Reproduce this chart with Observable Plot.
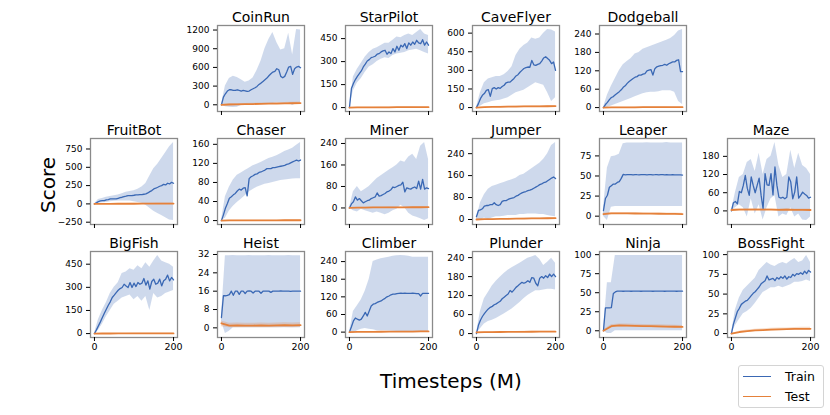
<!DOCTYPE html>
<html><head><meta charset="utf-8">
<script src="https://cdn.jsdelivr.net/npm/d3@7"></script>
<script src="https://cdn.jsdelivr.net/npm/@observablehq/plot@0.6"></script>
<style>
body{margin:0;background:#fff;font-family:"DejaVu Sans",sans-serif;}
#fig{position:relative;width:830px;height:415px;overflow:hidden;background:#fff;}
#fig svg{position:absolute;}
.lbl{position:absolute;font-size:20px;line-height:20px;white-space:nowrap;color:#000;}
#legend{position:absolute;left:738px;top:365px;width:86px;height:43px;box-sizing:border-box;border:1px solid #d4d4d4;border-radius:3px;background:#fff;padding-top:1px;}
.li{display:flex;align-items:center;height:19.5px;font-size:12.5px;}
.li span.sw{display:inline-block;width:28px;height:0;border-top:1.5px solid;margin-left:4px;margin-right:14px;}
</style></head><body><div id="fig"></div>
<script>
// ---------------- data ----------------
const games = ["CoinRun","StarPilot","CaveFlyer","Dodgeball","FruitBot","Chaser","Miner","Jumper","Leaper","Maze","BigFish","Heist","Climber","Plunder","Ninja","BossFight"];
const seriesNames = ["Train","Test"];
const steps5 = [0,5,10,15,20,25,30,35,40,45,50,55,60,65,70,75,80,85,90,95,100,105,110,115,120,125,130,135,140,145,150,155,160,165,170,175,180,185,190,195,200];
const steps10 = [0,10,20,30,40,50,60,70,80,90,100,110,120,130,140,150,160,170,180,190,200];
const steps20 = [0,20,40,60,80,100,120,140,160,180,200];
const xTicks = [0,200];
const yTicks = [[0,300,600,900,1200],[0,150,300,450],[0,150,300,450,600],[0,60,120,180,240],[-250,0,250,500,750],[0,40,80,120,160],[0,80,160,240],[0,80,160,240],[0,25,50,75],[0,60,120,180],[0,150,300,450],[0,8,16,24,32],[0,60,120,180,240],[0,60,120,180,240],[0,25,50,75,100],[0,25,50,75,100]];

// train mean (x = steps5)
const trainMean = [
[0,123,177,220,241,241,230,230,241,230,220,230,225,214,220,241,257,273,295,327,348,375,402,429,466,498,525,536,579,563,456,434,456,525,606,616,488,579,606,616,595],
[0,124,157,183,204,222,239,265,283,304,313,326,330,335,348,352,363,370,374,348,363,352,385,363,400,374,407,396,417,385,422,407,428,413,439,422,417,443,407,428,407],
[0,32,72,99,113,139,145,90,153,161,150,161,155,170,180,200,206,205,220,235,255,265,285,300,315,322,327,325,380,345,340,348,354,375,400,410,395,381,354,367,300],
[0,10,17,26,33,36,42,47,52,58,66,71,79,85,90,95,99,101,106,106,109,111,120,122,124,106,127,133,135,137,138,141,138,143,146,149,149,154,156,117,117],
[0,14,32,41,45,45,55,59,68,68,68,68,77,86,91,100,105,114,114,114,118,123,123,127,127,132,136,150,168,182,205,214,227,241,250,268,259,282,273,295,282],
[0,12,26,36,47,50,54,57,62,66,64,68,69,52,88,92,94,97,98,101,102,104,106,109,109,109,111,111,112,113,114,115,116,118,119,121,123,125,127,125,127],
[0,15,23,41,29,35,27,19,23,27,29,35,38,41,56,44,46,50,54,60,63,68,78,76,80,84,86,96,60,75,72,70,75,78,72,100,70,106,70,75,72],
[10,33,35,39,49,51,51,54,54,61,54,51,54,66,69,69,73,76,78,80,85,88,93,97,100,102,105,107,110,114,118,122,127,130,134,136,141,146,151,155,149],
[7,22,26,36,38,40,40,42,43,47,52,51.5,51.8,51.6,51.7,51.5,51.8,51.6,51.5,51.7,51.6,51.8,51.5,51.6,51.7,51.5,51.6,51.8,51.5,51.6,51.7,51.5,51.6,51.4,51.5,51.6,51.4,51.5,51.3,51.4,51.2],
[0,27,31,23,64,60,84,117,75,51,112,84,60,84,108,51,7,123,86,84,123,53,145,84,45,42,45,40,45,112,95,40,62,112,42,51,62,56,51,42,45],
[0,24,50,76,104,132,158,184,206,234,249,266,281,292,299,320,309,299,331,299,327,305,331,320,327,357,314,342,288,338,353,320,327,353,309,342,353,379,342,364,348],
[4.5,14,14,14.2,14.5,16,14.2,16,16,14.6,16,16,15,16,16.1,16,15.2,16,16,16,15.1,16,16,16,16,15.5,16,16,16,16,16.1,16,16,16,16,15.9,16,16,16,16,16],
[0,18,38,48,44,41,44,55,67,55,72,89,95,97,101,104,106,111,115,120,123,127,129,129,131,132,133,132,133,132,132,132,133,132,131,131,123,132,132,132,132],
[0,26,42,54,63,71,78,83,86,91,94,98,102,110,115,120,125,136,131,138,146,151,157,162,159,162,167,162,177,175,159,151,175,180,175,183,177,188,180,188,180],
[0,30,30,30,30.5,49,51,52,52,52.1,51.9,52,52.1,52,51.9,52,52,52.1,52,51.9,52,52,52.1,52,52,51.9,52,52,52.1,52,52,51.9,52,52,52,52.1,52,51.9,52,52,52],
[0,12,20,28,32,37,39,41,42,45,48,51,53,56,59,63,65,67,73,68,69,70,67,71,69,72,70,73,69,72,71,75,73,76,75,77,75,79,76,80,78]
];
// train band (x = steps10)
const trainHi = [
[0,300,420,460,440,400,360,380,430,550,700,900,1050,1160,1000,880,900,1150,800,1210,1200],
[0,200,250,290,330,360,380,390,405,420,420,440,460,455,470,480,470,490,510,480,470],
[0,120,200,230,240,250,250,265,290,330,420,470,500,520,560,550,560,600,630,625,610],
[0,40,70,95,120,140,150,160,175,180,190,195,200,205,210,215,220,225,235,250,255],
[0,60,75,90,100,110,120,140,160,170,180,200,230,280,380,480,540,620,700,780,840],
[0,50,70,85,95,100,105,110,115,118,122,126,130,133,136,140,145,148,152,158,164],
[0,60,80,60,70,80,95,110,120,130,140,150,160,175,170,190,200,180,230,244,180],
[0,60,90,110,120,125,130,135,140,145,150,160,165,175,185,195,205,220,240,270,281],
[10,60,74,75,77,90,91,91,91,91,91,91.5,91,91,91,91,91.8,91,91,91,91],
[0,60,110,120,160,170,130,190,120,170,180,226,150,110,120,200,140,190,150,140,120],
[0,90,150,200,260,300,330,390,400,420,410,440,420,460,430,470,507,470,460,450,430],
[5,31.5,31.5,31.6,31.5,31.5,31.5,31.6,31.5,31.5,31.5,31.5,31.6,31.5,31.5,31.5,31.5,31.6,31.5,31.5,31.5],
[0,70,90,110,140,180,240,245,250,252,255,258,260,261,260,258,255,255,255,255,255],
[0,70,110,130,150,165,178,190,200,208,215,222,230,238,242,247,235,215,225,238,222],
[0,63,63,99,99,99,99,99,99,99,99,99,99,99,99,99,99,99,99,99,99],
[0,30,45,55,60,65,70,80,85,90,87,85,88,90,88,92,95,90,92,99,90]
];
const trainLo = [
[0,-30,-40,-45,-40,-10,0,10,5,10,15,20,10,20,30,25,20,30,-10,20,30],
[0,110,160,190,230,265,280,300,315,325,320,340,350,355,360,370,375,380,370,360,350],
[0,10,30,40,50,55,60,70,80,100,120,130,140,160,180,200,190,180,120,50,80],
[0,0,5,10,15,20,25,30,35,40,45,48,50,50,52,55,55,55,50,20,10],
[0,10,15,20,30,35,40,40,40,40,30,20,10,-20,-60,-100,-130,-160,-190,-220,-228],
[0,5,20,30,38,45,52,60,65,70,73,76,78,80,82,84,85,86,87,88,88],
[0,-10,-15,-5,-10,-15,-20,-15,-20,-25,-20,-10,-5,10,0,-20,-30,-35,-40,-47,-40],
[0,-4,5,0,5,10,10,12,15,15,15,18,18,20,20,20,18,18,15,12,10],
[0,-5.5,11,12,12,12,12,12,12,12,12,12,12,12,12,12,12,12,12,12,12],
[0,10,20,10,-20,40,-10,20,-30,10,40,50,-20,-10,-15,10,-20,-10,-30,-32,-20],
[0,20,60,110,150,190,210,230,240,250,220,240,210,240,150,260,230,240,260,270,280],
[3,-2.5,-1.5,0,0,0,0,0,0,0,0,0,0,0,0,0,0,0,0,0,0],
[0,-5,5,10,12,10,8,5,5,5,4,3,2,1,1,1,1,0,0,0,0],
[0,15,30,38,42,48,55,62,70,78,88,98,110,120,128,135,135,138,140,140,138],
[0,-3.7,-3.5,0,0,0,0,0,0,0,0,0,0,0,0,0,0,0,0,0,0],
[0,10,18,25,28,32,38,45,52,55,58,58,60,58,60,62,65,65,66,68,66]
];
// test (x = steps20)
const testMean = [
[0,5,8,10,12,15,18,20,22,25,28],
[0,1,1.5,2,2,2,2.5,2.5,2.5,3,3],
[0,3,5,6,7,8,9,10,10,11,12],
[0,0.5,0.8,1,1,1.2,1.2,1.3,1.3,1.4,1.4],
[0,1,1,2,2,2,3,3,3,4,4],
[0,0.3,0.4,0.5,0.5,0.6,0.6,0.6,0.7,0.7,0.7],
[0,1,1.5,2,2,2.2,2.4,2.5,2.6,2.7,2.8],
[0,1,1.5,2,2.5,3,3.5,4,4.2,4.5,5],
[2.5,3.5,3.6,3.5,3.3,3.2,3.1,3,2.9,2.8,2.6],
[3,4,4,4.5,4,4,3.5,4,3.5,3.5,3],
[0,0.5,0.7,0.8,0.9,1,1,1.1,1.1,1.2,1.2],
[2,1,1.1,1,1,1.1,1,1.1,1.2,1.1,1.2],
[0,0.5,0.8,1,1.2,1.4,1.6,1.8,2,2.2,2.5],
[4,4.5,4.8,5,5.2,5.4,5.6,5.8,6,6,6],
[0,6,7,6.8,6.5,6.2,6,5.8,5.5,5.3,5],
[0,2,3,4,4.5,5,5.3,5.6,6,6,6]
];
const testLo = [
[0,-5,-5,-3,0,2,5,5,8,10,12],
[0,0,0.5,1,1,1,1,1,1,1.5,1.5],
[0,1,2,3,4,4,5,5,6,6,7],
[0,0,0.3,0.5,0.5,0.6,0.6,0.7,0.7,0.8,0.8],
[0,-2,-3,-3,-3,-4,-4,-4,-5,-5,-5],
[0,0,0.1,0.2,0.2,0.3,0.3,0.3,0.4,0.4,0.4],
[0,0,0.5,1,1,1,1.2,1.3,1.4,1.5,1.5],
[0,0,0.5,1,1.5,2,2,2.5,2.8,3,3.2],
[1.5,2.5,2.6,2.5,2.3,2.2,2.1,2,1.9,1.8,1.7],
[0,1,1,1.5,1,1,0.5,1,0.5,0.5,0],
[0,0,0.2,0.3,0.4,0.5,0.5,0.6,0.6,0.7,0.7],
[0.5,0,0.1,0,0,0.1,0,0.1,0.2,0.1,0.2],
[0,0,0.2,0.4,0.5,0.6,0.7,0.8,0.9,1,1.2],
[3,3,3.3,3.5,3.7,3.9,4.1,4.3,4.5,4.5,4.5],
[-1,4,5,4.8,4.5,4.2,4,3.8,3.5,3.3,3],
[0,1,1.5,2.5,3,3.3,3.6,4,4.2,4.2,4.2]
];
const testHi = [
[0,15,20,22,25,28,30,35,38,40,45],
[0,2,3,3,3.5,3.5,4,4,4,4.5,4.5],
[0,5,8,10,11,12,13,14,15,16,17],
[0,1,1.3,1.5,1.6,1.8,1.8,1.9,2,2,2],
[0,4,5,6,7,8,9,10,11,12,12],
[0,0.6,0.7,0.8,0.8,0.9,0.9,0.9,1,1,1],
[0,2,2.5,3,3,3.4,3.6,3.7,3.8,4,4],
[0,2,2.5,3,3.5,4,5,5.5,5.8,6,6.5],
[3.5,4.5,4.6,4.5,4.3,4.2,4.1,4,3.9,3.8,3.5],
[6,7,7,7.5,7,7,6.5,7,6.5,6.5,6],
[0,1,1.2,1.3,1.4,1.5,1.5,1.6,1.6,1.7,1.7],
[3,2,2.1,2,2,2.1,2,2.1,2.2,2.1,2.2],
[0,1,1.4,1.6,1.9,2.2,2.5,2.8,3.1,3.4,3.8],
[5,6,6.3,6.5,6.7,6.9,7.1,7.3,7.5,7.5,7.5],
[1,8,9,8.8,8.5,8.2,8,7.8,7.5,7.3,7],
[0,3,4.5,5.5,6,6.7,7,7.2,7.8,8,8]
];

// ---------------- drawing ----------------
const BLUE = "#3a68b4", ORANGE = "#e5813a";
const fig = document.getElementById("fig");
const mL = 42, mR = 10, mT = 24, mB = 20, FW = 87, FH = 86;
const fmt = d => d < 0 ? "\u2212" + (-d) : String(d);

games.forEach((name, i) => {
  const row = i < 4 ? 0 : 1 + Math.floor((i - 4) / 6);
  const col = i < 4 ? i + 1 : (i - 4) % 6;
  const mean = steps5.map((x, j) => ({x, y: trainMean[i][j]}));
  const band = steps10.map((x, j) => ({x, lo: trainLo[i][j], hi: trainHi[i][j]}));
  const test = steps20.map((x, j) => ({x, m: testMean[i][j], lo: testLo[i][j], hi: testHi[i][j]}));
  const all = [...trainMean[i], ...trainLo[i], ...trainHi[i], ...testMean[i], ...testLo[i], ...testHi[i]];
  const [a, b] = d3.extent(all);
  const pad = (b - a) * 0.05;
  const svg = Plot.plot({
    width: mL + FW + mR, height: mT + FH + mB,
    marginLeft: mL, marginRight: mR, marginTop: mT, marginBottom: mB,
    x: {domain: [-10, 210]},
    y: {domain: [a - pad, b + pad]},
    style: {background: "transparent", overflow: "visible", fontFamily: "DejaVu Sans", color: "#000"},
    marks: [
      Plot.areaY(band, {x: "x", y1: "lo", y2: "hi", fill: BLUE, fillOpacity: 0.25}),
      Plot.areaY(test, {x: "x", y1: "lo", y2: "hi", fill: ORANGE, fillOpacity: 0.25}),
      Plot.line(mean, {x: "x", y: "y", stroke: BLUE, strokeWidth: 1.3}),
      Plot.line(test, {x: "x", y: "m", stroke: ORANGE, strokeWidth: 1.8}),
      Plot.frame({stroke: "#8a8a8a", strokeWidth: 1.3}),
      Plot.axisY({ticks: yTicks[i], tickFormat: fmt, tickSize: 4, tickPadding: 4, fontSize: 9, label: null}),
      Plot.axisX({ticks: xTicks, tickFormat: row === 2 ? fmt : () => "", tickSize: 4, tickPadding: 2, fontSize: 9.5, label: null}),
      Plot.text([name], {text: d => d, frameAnchor: "top", lineAnchor: "bottom", dy: -4, fontSize: 14})
    ]
  });
  svg.style.left = (90 + 127.3 * col - mL) + "px";
  svg.style.top = (25 + 113 * row - mT) + "px";
  fig.appendChild(svg);
});

const score = document.createElement("div");
score.className = "lbl"; score.textContent = "Score";
score.style.left = "48px"; score.style.top = "185px";
score.style.transform = "translate(-50%,-50%) rotate(-90deg)";
fig.appendChild(score);

const xl = document.createElement("div");
xl.className = "lbl"; xl.textContent = "Timesteps (M)";
xl.style.left = "451px"; xl.style.top = "371px"; xl.style.transform = "translateX(-50%)";
fig.appendChild(xl);

const leg = document.createElement("div");
leg.id = "legend";
[BLUE, ORANGE].forEach((c, k) => {
  const it = document.createElement("div"); it.className = "li";
  const sw = document.createElement("span"); sw.className = "sw"; sw.style.borderTopColor = c;
  const tx = document.createElement("span"); tx.textContent = seriesNames[k];
  it.appendChild(sw); it.appendChild(tx); leg.appendChild(it);
});
fig.appendChild(leg);
</script></body></html>
